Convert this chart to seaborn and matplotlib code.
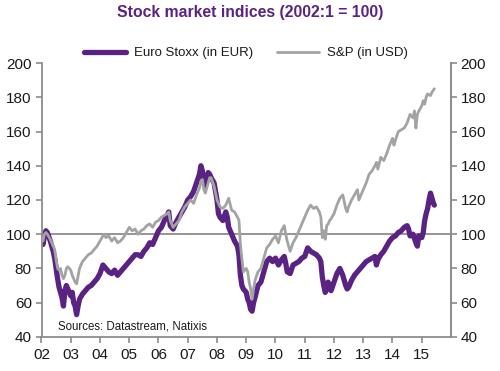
import matplotlib
matplotlib.use("Agg")
import matplotlib.pyplot as plt
import seaborn as sns
import pandas as pd

# ---- data ----
euro_t = [2002.0, 2002.05, 2002.1, 2002.15, 2002.2, 2002.3, 2002.4, 2002.45, 2002.5, 2002.55, 2002.6, 2002.65,
          2002.7, 2002.75, 2002.8, 2002.85, 2002.9, 2003.0, 2003.05, 2003.1, 2003.15, 2003.2, 2003.25, 2003.3,
          2003.4, 2003.5, 2003.6, 2003.7, 2003.8, 2003.9, 2004.0, 2004.1, 2004.2, 2004.3, 2004.4, 2004.5,
          2004.6, 2004.7, 2004.8, 2004.9, 2005.0, 2005.1, 2005.2, 2005.3, 2005.4, 2005.5, 2005.6, 2005.7,
          2005.8, 2005.9, 2006.0, 2006.1, 2006.2, 2006.3, 2006.35, 2006.4, 2006.5, 2006.6, 2006.7, 2006.8,
          2006.9, 2007.0, 2007.1, 2007.2, 2007.3, 2007.4, 2007.45, 2007.5, 2007.55, 2007.6, 2007.7, 2007.75,
          2007.8, 2007.9, 2008.0, 2008.05, 2008.1, 2008.2, 2008.3, 2008.35, 2008.4, 2008.5, 2008.6, 2008.7,
          2008.75, 2008.8, 2008.85, 2008.9, 2009.0, 2009.05, 2009.1, 2009.15, 2009.2, 2009.25, 2009.3, 2009.4,
          2009.5, 2009.6, 2009.7, 2009.8, 2009.9, 2010.0, 2010.1, 2010.2, 2010.3, 2010.35, 2010.4, 2010.5,
          2010.6, 2010.7, 2010.8, 2010.9, 2011.0, 2011.1, 2011.2, 2011.3, 2011.4, 2011.5, 2011.55, 2011.6,
          2011.65, 2011.7, 2011.75, 2011.8, 2011.85, 2011.9, 2012.0, 2012.1, 2012.2, 2012.25, 2012.3, 2012.4,
          2012.45, 2012.5, 2012.6, 2012.7, 2012.8, 2012.9, 2013.0, 2013.1, 2013.2, 2013.3, 2013.4, 2013.45,
          2013.5, 2013.6, 2013.7, 2013.8, 2013.9, 2014.0, 2014.1, 2014.2, 2014.3, 2014.4, 2014.5, 2014.55,
          2014.6, 2014.7, 2014.8, 2014.85, 2014.9, 2015.0, 2015.05, 2015.1, 2015.15, 2015.2, 2015.25, 2015.3,
          2015.35, 2015.4, 2015.43]
euro_v = [97, 94, 99, 102, 101, 96, 90, 86, 80, 74, 69, 66,
          63, 58, 67, 70, 68, 64, 66, 60, 58, 53, 58, 62,
          65, 67, 69, 70, 72, 74, 77, 82, 80, 78, 77, 79,
          76, 78, 80, 82, 84, 86, 88, 88, 87, 90, 92, 95,
          94, 98, 102, 104, 108, 111, 113, 105, 103, 107, 110, 113,
          116, 120, 122, 125, 130, 135, 140, 137, 130, 128, 136, 135,
          133, 130, 120, 112, 110, 108, 113, 110, 104, 100, 96, 93,
          88, 76, 70, 68, 66, 62, 60, 56, 55, 60, 63, 70,
          72, 78, 84, 86, 84, 86, 82, 85, 87, 83, 78, 77,
          82, 83, 84, 86, 87, 92, 90, 89, 88, 86, 84, 75,
          70, 66, 68, 72, 70, 67, 72, 77, 80, 78, 76, 70,
          68, 69, 73, 76, 78, 80, 82, 84, 85, 86, 87, 82,
          85, 88, 90, 93, 96, 98, 99, 101, 102, 104, 105, 103,
          99, 100, 95, 93, 99, 98, 101, 108, 112, 115, 120, 124,
          121, 118, 117]

sp_t = [2002.0, 2002.05, 2002.1, 2002.15, 2002.2, 2002.3, 2002.4, 2002.45, 2002.5, 2002.55, 2002.6, 2002.65,
        2002.7, 2002.75, 2002.8, 2002.85, 2002.9, 2003.0, 2003.05, 2003.1, 2003.15, 2003.2, 2003.3, 2003.4,
        2003.5, 2003.6, 2003.7, 2003.8, 2003.9, 2004.0, 2004.1, 2004.15, 2004.2, 2004.3, 2004.4, 2004.5,
        2004.6, 2004.7, 2004.8, 2004.9, 2005.0, 2005.1, 2005.2, 2005.3, 2005.4, 2005.5, 2005.6, 2005.7,
        2005.8, 2005.9, 2006.0, 2006.1, 2006.2, 2006.3, 2006.35, 2006.4, 2006.5, 2006.6, 2006.7, 2006.8,
        2006.9, 2007.0, 2007.1, 2007.2, 2007.3, 2007.4, 2007.45, 2007.5, 2007.55, 2007.6, 2007.7, 2007.75,
        2007.8, 2007.9, 2008.0, 2008.1, 2008.2, 2008.3, 2008.4, 2008.5, 2008.6, 2008.7, 2008.75, 2008.8,
        2008.85, 2008.9, 2009.0, 2009.05, 2009.1, 2009.15, 2009.2, 2009.25, 2009.3, 2009.4, 2009.5, 2009.6,
        2009.7, 2009.8, 2009.9, 2010.0, 2010.1, 2010.2, 2010.3, 2010.35, 2010.4, 2010.5, 2010.6, 2010.7,
        2010.8, 2010.9, 2011.0, 2011.1, 2011.2, 2011.3, 2011.4, 2011.5, 2011.55, 2011.6, 2011.65, 2011.7,
        2011.75, 2011.8, 2011.85, 2011.9, 2012.0, 2012.1, 2012.2, 2012.3, 2012.4, 2012.45, 2012.5, 2012.6,
        2012.7, 2012.8, 2012.85, 2012.9, 2013.0, 2013.1, 2013.2, 2013.3, 2013.4, 2013.45, 2013.5, 2013.6,
        2013.7, 2013.8, 2013.9, 2014.0, 2014.05, 2014.1, 2014.2, 2014.3, 2014.4, 2014.5, 2014.6, 2014.7,
        2014.75, 2014.8, 2014.85, 2014.9, 2015.0, 2015.05, 2015.1, 2015.15, 2015.2, 2015.3, 2015.35, 2015.43]
sp_v = [98, 96, 100, 101, 100, 97, 93, 91, 85, 80, 79, 80,
        76, 74, 76, 80, 81, 79, 76, 74, 72, 71, 80, 84,
        86, 88, 89, 91, 93, 96, 99, 100, 98, 99, 96, 98,
        95, 96, 98, 101, 104, 102, 103, 100, 102, 103, 105, 106,
        104, 107, 108, 110, 111, 112, 113, 108, 104, 106, 108, 113,
        116, 118, 120, 118, 123, 127, 131, 132, 126, 124, 130, 133,
        133, 128, 120, 116, 115, 117, 121, 114, 113, 110, 108, 94,
        86, 78, 80, 78, 72, 68, 62, 68, 73, 78, 80, 86,
        92, 94, 97, 99, 95, 102, 105, 100, 96, 90, 95, 98,
        102, 106, 110, 114, 117, 115, 116, 113, 110, 98, 102, 97,
        105, 106, 108, 109, 112, 117, 121, 123, 115, 113, 116, 120,
        123, 126, 120, 122, 126, 130, 135, 137, 140, 142, 138, 145,
        143, 147, 152, 156, 152, 155, 160, 161, 162, 165, 170, 168,
        172, 162, 170, 172, 175, 178, 176, 180, 182, 181, 183, 185]

series_names = ["Euro Stoxx (in EUR)", "S&P (in USD)"]
year_ticks = list(range(2002, 2016))
year_labels = ["02", "03", "04", "05", "06", "07", "08", "09", "10", "11", "12", "13", "14", "15"]
y_ticks = [40, 60, 80, 100, 120, 140, 160, 180, 200]

# ---- plot ----
sns.set_theme(style="white")
plt.rcParams["font.family"] = ["Liberation Sans", "DejaVu Sans"]

purple = "#5a2282"
grey = "#a3a3a3"
axis_grey = "#8c8c8c"

fig = plt.figure(figsize=(5.0, 3.71), dpi=100)
ax = fig.add_axes([0.083, 0.092, 0.819, 0.738])

df_e = pd.DataFrame({"t": euro_t, "v": euro_v})
df_s = pd.DataFrame({"t": sp_t, "v": sp_v})

ax.axhline(100, color=axis_grey, lw=1.3, zorder=1)
sns.lineplot(data=df_e, x="t", y="v", ax=ax, color=purple, lw=3.8, sort=False,
             label=series_names[0], zorder=2)
sns.lineplot(data=df_s, x="t", y="v", ax=ax, color=grey, lw=2.0, sort=False,
             label=series_names[1], zorder=3)

ax.set_xlim(2002, 2016)
ax.set_ylim(40, 200)
ax.set_xticks(year_ticks)
ax.set_xticklabels(year_labels)
ax.set_yticks(y_ticks)
ax.set_xlabel("")
ax.set_ylabel("")

for s in ["left", "bottom", "right"]:
    ax.spines[s].set_visible(True)
    ax.spines[s].set_color(axis_grey)
    ax.spines[s].set_linewidth(1.3)
ax.spines["top"].set_visible(False)

ax.tick_params(axis="both", which="major", labelsize=11, colors=axis_grey,
               labelcolor="#1a1a1a", length=4, width=1.2, direction="out")
ax.tick_params(axis="x", pad=4, bottom=True)
ax.tick_params(axis="y", pad=3, left=True)

ax2 = ax.twinx()
ax2.set_ylim(40, 200)
ax2.set_yticks(y_ticks)
for s in ["left", "bottom", "top"]:
    ax2.spines[s].set_visible(False)
ax2.spines["right"].set_color(axis_grey)
ax2.spines["right"].set_linewidth(1.3)
ax2.tick_params(axis="y", labelsize=11, colors=axis_grey, labelcolor="#1a1a1a",
                length=4, width=1.2, direction="out", right=True, pad=3)

leg = ax.legend(loc="center", bbox_to_anchor=(0.5, 1 + 10 / 274), ncol=2, frameon=False,
                fontsize=9.5, handlelength=3.2, columnspacing=1.8, handletextpad=0.6,
                borderaxespad=0.0, borderpad=0.0)
for t in leg.get_texts():
    t.set_color("#1a1a1a")

ax.text(0.04, 0.015, "Sources: Datastream, Natixis", transform=ax.transAxes,
        fontsize=8.3, color="#1a1a1a", ha="left", va="bottom")

fig.text(0.5, 1 - 13 / 371, "Stock market indices (2002:1 = 100)", ha="center", va="center",
         fontsize=11.3, fontweight="bold", color=purple)

fig.savefig("out.png", dpi=100)
